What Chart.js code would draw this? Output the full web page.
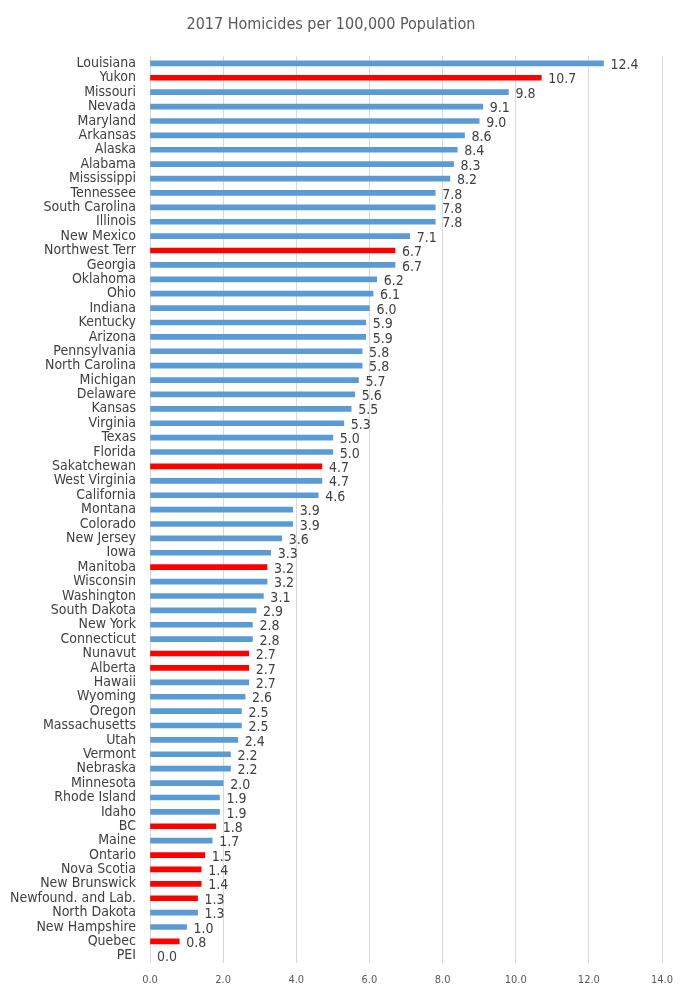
<!DOCTYPE html>
<html>
<head>
<meta charset="utf-8">
<script src="https://cdn.jsdelivr.net/npm/chart.js@4"></script>
<style>
  html, body { margin: 0; padding: 0; background: #fff; }
  #wrap { width: 693px; height: 993px; }
</style>
</head>
<body>
<div id="wrap"><canvas id="chart"></canvas></div>
<script>
const regions = [
  'Louisiana', 'Yukon', 'Missouri', 'Nevada', 'Maryland', 'Arkansas', 'Alaska', 'Alabama',
  'Mississippi', 'Tennessee', 'South Carolina', 'Illinois', 'New Mexico', 'Northwest Terr',
  'Georgia', 'Oklahoma', 'Ohio', 'Indiana', 'Kentucky', 'Arizona', 'Pennsylvania',
  'North Carolina', 'Michigan', 'Delaware', 'Kansas', 'Virginia', 'Texas', 'Florida',
  'Sakatchewan', 'West Virginia', 'California', 'Montana', 'Colorado', 'New Jersey', 'Iowa',
  'Manitoba', 'Wisconsin', 'Washington', 'South Dakota', 'New York', 'Connecticut', 'Nunavut',
  'Alberta', 'Hawaii', 'Wyoming', 'Oregon', 'Massachusetts', 'Utah', 'Vermont', 'Nebraska',
  'Minnesota', 'Rhode Island', 'Idaho', 'BC', 'Maine', 'Ontario', 'Nova Scotia',
  'New Brunswick', 'Newfound. and Lab.', 'North Dakota', 'New Hampshire', 'Quebec', 'PEI'
]

const homicideRates = [
  12.4, 10.7, 9.8, 9.1, 9.0, 8.6, 8.4, 8.3,
  8.2, 7.8, 7.8, 7.8, 7.1, 6.7,
  6.7, 6.2, 6.1, 6.0, 5.9, 5.9, 5.8,
  5.8, 5.7, 5.6, 5.5, 5.3, 5.0, 5.0,
  4.7, 4.7, 4.6, 3.9, 3.9, 3.6, 3.3,
  3.2, 3.2, 3.1, 2.9, 2.8, 2.8, 2.7,
  2.7, 2.7, 2.6, 2.5, 2.5, 2.4, 2.2, 2.2,
  2.0, 1.9, 1.9, 1.8, 1.7, 1.5, 1.4,
  1.4, 1.3, 1.3, 1.0, 0.8, 0.0
]

// Canadian provinces / territories get the red bars
const canadian = [
  'Yukon', 'Northwest Terr', 'Sakatchewan', 'Manitoba', 'Nunavut', 'Alberta', 'BC',
  'Ontario', 'Nova Scotia', 'New Brunswick', 'Newfound. and Lab.', 'Quebec', 'PEI'
]

const xTicks = [0, 2, 4, 6, 8, 10, 12, 14]

const FONT = "'Liberation Sans Narrow', 'DejaVu Sans Condensed', 'Liberation Sans', sans-serif"

// zero-length bars stay invisible so the 0 gridline shows through
const barColors = regions.map((r, i) => {
  if (homicideRates[i] === 0) return 'rgba(0,0,0,0)'
  return canadian.includes(r) ? '#FF0000' : '#5B9BD5'
})

// draw the value next to each bar
const valueLabels = {
  id: 'valueLabels',
  afterDatasetsDraw(chart) {
    const ctx = chart.ctx
    const meta = chart.getDatasetMeta(0)
    ctx.save()
    ctx.font = '14px ' + FONT
    ctx.fillStyle = '#404040'
    ctx.textAlign = 'left'
    ctx.textBaseline = 'middle'
    meta.data.forEach((bar, i) => {
      ctx.fillText(homicideRates[i].toFixed(1), bar.x + 7, bar.y + 2)
    })
    ctx.restore()
  }
}

new Chart(document.getElementById('chart'), {
  type: 'bar',
  data: {
    labels: regions,
    datasets: [{
      data: homicideRates,
      backgroundColor: barColors,
      borderWidth: 0,
      barThickness: 5
    }]
  },
  options: {
    indexAxis: 'y',
    responsive: true,
    maintainAspectRatio: false,
    animation: false,
    layout: { padding: { left: 0, right: 31, top: 0, bottom: 0 } },
    plugins: {
      legend: { display: false },
      tooltip: { enabled: false },
      title: {
        display: true,
        text: '2017 Homicides per 100,000 Population',
        color: '#595959',
        font: { family: FONT, size: 16, weight: 'normal' },
        padding: { top: 15, bottom: 22 }
      }
    },
    scales: {
      x: {
        min: 0,
        max: 14,
        afterBuildTicks: scale => { scale.ticks = xTicks.map(v => ({ value: v })) },
        grid: { color: '#D9D9D9', drawTicks: false },
        border: { display: false },
        ticks: {
          color: '#595959',
          font: { family: FONT, size: 11 },
          padding: 11,
          callback: v => v.toFixed(1)
        },
        afterFit: scale => { scale.height = 30 }
      },
      y: {
        grid: { display: false, drawTicks: false },
        border: { display: false },
        ticks: {
          color: '#404040',
          font: { family: FONT, size: 14 },
          padding: 14,
          autoSkip: false
        },
        afterFit: scale => { scale.width = 150 }
      }
    }
  },
  plugins: [valueLabels]
})
</script>
</body>
</html>
